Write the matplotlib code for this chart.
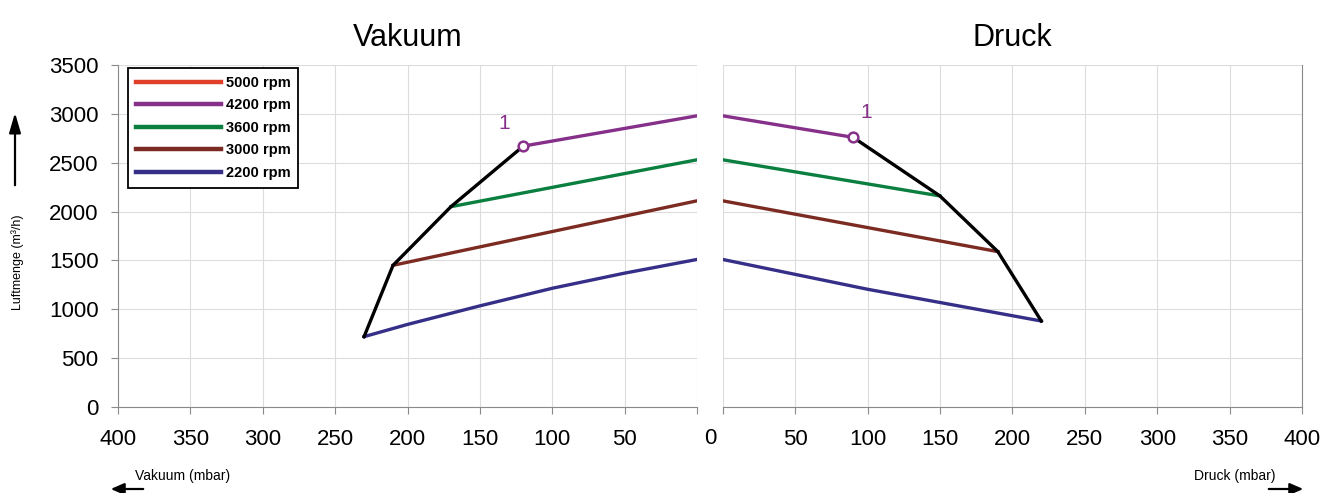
import matplotlib
matplotlib.use("Agg")
import matplotlib.pyplot as plt

plt.rcParams['font.family'] = ['Liberation Sans', 'DejaVu Sans']

# Vakuum side (mbar, m3/h)
vak_4200_x = [120, 0]
vak_4200_y = [2670, 2980]
vak_3600_x = [170, 0]
vak_3600_y = [2050, 2530]
vak_3000_x = [210, 0]
vak_3000_y = [1450, 2110]
vak_2200_x = [230, 200, 150, 100, 50, 0]
vak_2200_y = [720, 845, 1035, 1215, 1370, 1510]
vak_limit_x = [230, 210, 170, 120]
vak_limit_y = [720, 1450, 2050, 2670]

# Druck side
dr_4200_x = [0, 90]
dr_4200_y = [2980, 2760]
dr_3600_x = [0, 150]
dr_3600_y = [2530, 2160]
dr_3000_x = [0, 190]
dr_3000_y = [2110, 1590]
dr_2200_x = [0, 100, 220]
dr_2200_y = [1510, 1205, 880]
dr_limit_x = [90, 150, 190, 220]
dr_limit_y = [2760, 2160, 1590, 880]

labels = ["5000 rpm", "4200 rpm", "3600 rpm", "3000 rpm", "2200 rpm"]
colors = ["#e0402a", "#86308a", "#0b7f40", "#7b2b22", "#352f88"]
x_ticks = [0, 50, 100, 150, 200, 250, 300, 350, 400]
y_ticks = [0, 500, 1000, 1500, 2000, 2500, 3000, 3500]

fig = plt.figure(figsize=(13.35, 4.93), dpi=100)
ax1 = fig.add_axes([118 / 1335, 86 / 493, 579 / 1335, 342 / 493])
ax2 = fig.add_axes([722.7 / 1335, 86 / 493, 579.3 / 1335, 342 / 493])

spine_col = "#8a8a8a"
grid_col = "#dcdcdc"
lw = 2.4

for ax in (ax1, ax2):
    ax.set_ylim(0, 3500)
    ax.set_yticks(y_ticks)
    ax.set_xticks(x_ticks)
    ax.grid(True, color=grid_col, linewidth=0.8)
    ax.set_axisbelow(True)
    ax.spines['top'].set_visible(False)
    for s in ax.spines.values():
        s.set_color(spine_col)
    ax.tick_params(colors=spine_col, labelcolor="black", labelsize=16, length=5, direction="out")
    ax.tick_params(axis="x", pad=11)
    ax.tick_params(axis="y", pad=9)

ax1.set_xlim(400, 0)
ax1.spines['right'].set_visible(False)
ax1.set_xticklabels([""] + [str(t) for t in x_ticks[1:]])

ax2.set_xlim(0, 400)
ax2.spines['left'].set_visible(False)
ax2.set_xticklabels([""] + [str(t) for t in x_ticks[1:]])
ax2.tick_params(axis="y", left=False, labelleft=False)

# Vakuum curves
ax1.plot([], [], color=colors[0], lw=lw, label=labels[0])
ax1.plot(vak_4200_x, vak_4200_y, color=colors[1], lw=lw, label=labels[1])
ax1.plot(vak_3600_x, vak_3600_y, color=colors[2], lw=lw, label=labels[2])
ax1.plot(vak_3000_x, vak_3000_y, color=colors[3], lw=lw, label=labels[3])
ax1.plot(vak_2200_x, vak_2200_y, color=colors[4], lw=lw, label=labels[4])
ax1.plot(vak_limit_x, vak_limit_y, color="black", lw=lw, solid_joinstyle="miter")
ax1.plot(vak_4200_x[0], vak_4200_y[0], "o", ms=7, mfc="white", mec=colors[1], mew=1.8, zorder=5)
ax1.text(vak_4200_x[0] + 13, vak_4200_y[0] + 230, "1", color=colors[1], fontsize=15, ha="center", va="center")

# Druck curves
ax2.plot(dr_4200_x, dr_4200_y, color=colors[1], lw=lw)
ax2.plot(dr_3600_x, dr_3600_y, color=colors[2], lw=lw)
ax2.plot(dr_3000_x, dr_3000_y, color=colors[3], lw=lw)
ax2.plot(dr_2200_x, dr_2200_y, color=colors[4], lw=lw)
ax2.plot(dr_limit_x, dr_limit_y, color="black", lw=lw, solid_joinstyle="miter")
ax2.plot(dr_4200_x[1], dr_4200_y[1], "o", ms=7, mfc="white", mec=colors[1], mew=1.8, zorder=5)
ax2.text(dr_4200_x[1] + 9, dr_4200_y[1] + 250, "1", color=colors[1], fontsize=15, ha="center", va="center")

leg = ax1.legend(loc="upper left", bbox_to_anchor=(10 / 579, 1 - 3 / 342), borderaxespad=0,
                 fancybox=False, edgecolor="black", framealpha=1,
                 prop={"size": 10.5, "weight": "bold"}, handlelength=5.8,
                 handletextpad=0.35, labelspacing=0.58, borderpad=0.55)
leg.get_frame().set_linewidth(1.3)
for h in leg.get_lines():
    h.set_linewidth(3.2)

ax1.set_title("Vakuum", fontsize=22, pad=14)
ax2.set_title("Druck", fontsize=22, pad=14)

# shared zero label between the two panels
fig.text(710 / 1335, 1 - 438 / 493, "0", fontsize=16, ha="center", va="center")

fig.text(18 / 1335, 1 - 262 / 493, "Luftmenge (m³/h)", rotation=90, fontsize=9, ha="center", va="center")
fig.text(135 / 1335, 1 - 476 / 493, "Vakuum (mbar)", fontsize=10, ha="left", va="center")
fig.text(1275 / 1335, 1 - 476 / 493, "Druck (mbar)", fontsize=10, ha="right", va="center")

fig.add_artist(matplotlib.patches.FancyArrowPatch((15 / 1335, 1 - 188 / 493), (15 / 1335, 1 - 110 / 493),
               transform=fig.transFigure, arrowstyle="-|>,head_length=12,head_width=3.5", color="black", lw=1.6))
fig.add_artist(matplotlib.patches.FancyArrowPatch((146 / 1335, 1 - 489 / 493), (108 / 1335, 1 - 489 / 493),
               transform=fig.transFigure, arrowstyle="-|>,head_length=8,head_width=3.5", color="black", lw=1.6))
fig.add_artist(matplotlib.patches.FancyArrowPatch((1266 / 1335, 1 - 489 / 493), (1306 / 1335, 1 - 489 / 493),
               transform=fig.transFigure, arrowstyle="-|>,head_length=8,head_width=3.5", color="black", lw=1.6))

fig.savefig("out.png", dpi=100)
